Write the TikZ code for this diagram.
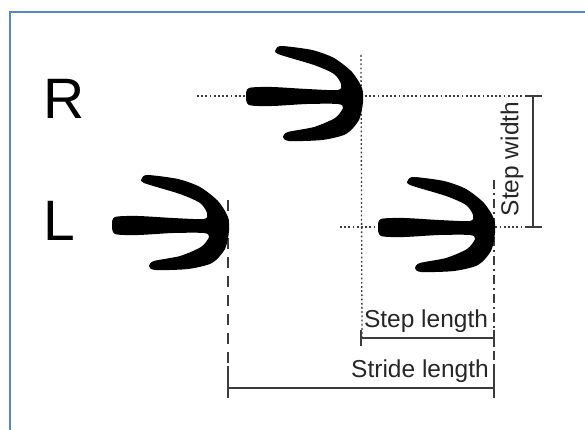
\documentclass[tikz,border=0pt]{standalone}
\usepackage{fontspec}
\setmainfont{Liberation Sans}
\usetikzlibrary{calc}
\definecolor{framecolor}{RGB}{86,137,201}
\definecolor{guidecolor}{RGB}{60,60,60}
\definecolor{dimcolor}{RGB}{60,60,60}

\tikzset{
  % one print, origin at the middle of the toe edge, heel to the left
  footprint/.pic={
    \fill[black] plot[smooth cycle, tension=0.45] coordinates {
      (-116,0) (-113,-8) (-90,-9) (-55,-7) (-24,-6) (-21,-12) (-28,-22)
      (-48,-31) (-84,-42) (-86,-47) (-80,-50) (-50,-46) (-28,-38) (-10,-24)
      (0,-8) (1,6) (-3,24) (-16,38) (-40,44) (-73,45) (-79,41) (-74,36)
      (-48,31) (-27,22) (-19,12) (-24,8) (-55,8) (-90,10) (-113,9)};
  },
  guide/.style={guidecolor, line width=1.3pt, dash pattern=on 1.8pt off 2.4pt},
  strideguide/.style={guidecolor, line width=1.2pt, dash pattern=on 11pt off 8pt},
  stepguide/.style={guidecolor, line width=1.2pt, dash pattern=on 9pt off 4pt on 2pt off 4pt},
  dimline/.style={dimcolor, line width=1.5pt},
  footlabel/.style={font=\fontsize{57}{60}\selectfont, inner sep=0pt},
  dimlabel/.style={font=\fontsize{24.5}{27}\selectfont, text=black!85, inner sep=0pt}
}

\begin{document}
\begin{tikzpicture}[x=1pt, y=-1pt]
  \useasboundingbox (0,0) rectangle (585,430);
  \clip (0,0) rectangle (585,430);

  % frame
  \draw[framecolor, line width=2.2pt] (10,450) -- (10,12) -- (600,12);

  % toe points of the three prints
  \coordinate (rtoe) at (362,96);
  \coordinate (ltoe) at (228,225);
  \coordinate (nexttoe) at (494,227);

  % side labels
  \node[footlabel, anchor=base west] (rlabel) at (43,119) {R};
  \node[footlabel, anchor=base west] (llabel) at (43,240) {L};

  % guide lines
  \coordinate (rguide) at (197,96);
  \coordinate (nextguide) at (340,227);
  \coordinate (widthtop) at (533,96);
  \coordinate (widthbot) at (533,227);
  \draw[guide] (rguide) -- ($(widthtop)+(-8,0)$);
  \draw[guide] (nextguide) -- ($(widthbot)+(-8,0)$);
  \draw[guide] ($(rtoe)+(-1,-41)$) -- (rtoe |- 0,338);
  \draw[strideguide] ($(ltoe)+(0,-25)$) -- (ltoe |- 0,398);
  \draw[stepguide] ($(nexttoe)+(0,-47)$) -- (nexttoe |- 0,398);

  % prints
  \pic at (rtoe) {footprint};
  \pic at (ltoe) {footprint};
  \pic at (nexttoe) {footprint};

  % step width
  \draw[dimline] (widthtop) -- (widthbot);
  \draw[dimline] ($(widthtop)+(-8,0)$) -- ($(widthtop)+(9,0)$);
  \draw[dimline] ($(widthbot)+(-8,0)$) -- ($(widthbot)+(9,0)$);
  \node[dimlabel, rotate=90] (widthlabel) at (512,159) {Step width};

  % step length
  \coordinate (stepa) at (361,338);
  \coordinate (stepb) at (494,338);
  \draw[dimline] (stepa) -- (stepb);
  \draw[dimline] ($(stepa)+(0,-8)$) -- ($(stepa)+(0,8)$);
  \draw[dimline] ($(stepb)+(0,-8)$) -- ($(stepb)+(0,8)$);
  \node[dimlabel, anchor=base] (steplabel) at (426,327) {Step length};

  % stride length
  \coordinate (stridea) at (228,388);
  \coordinate (strideb) at (494,388);
  \draw[dimline] (stridea) -- (strideb);
  \draw[dimline] ($(stridea)+(0,-22)$) -- ($(stridea)+(0,10)$);
  \draw[dimline] ($(strideb)+(0,-22)$) -- ($(strideb)+(0,10)$);
  \node[dimlabel, anchor=base east] (stridelabel) at (489,377) {Stride length};
\end{tikzpicture}
\end{document}
